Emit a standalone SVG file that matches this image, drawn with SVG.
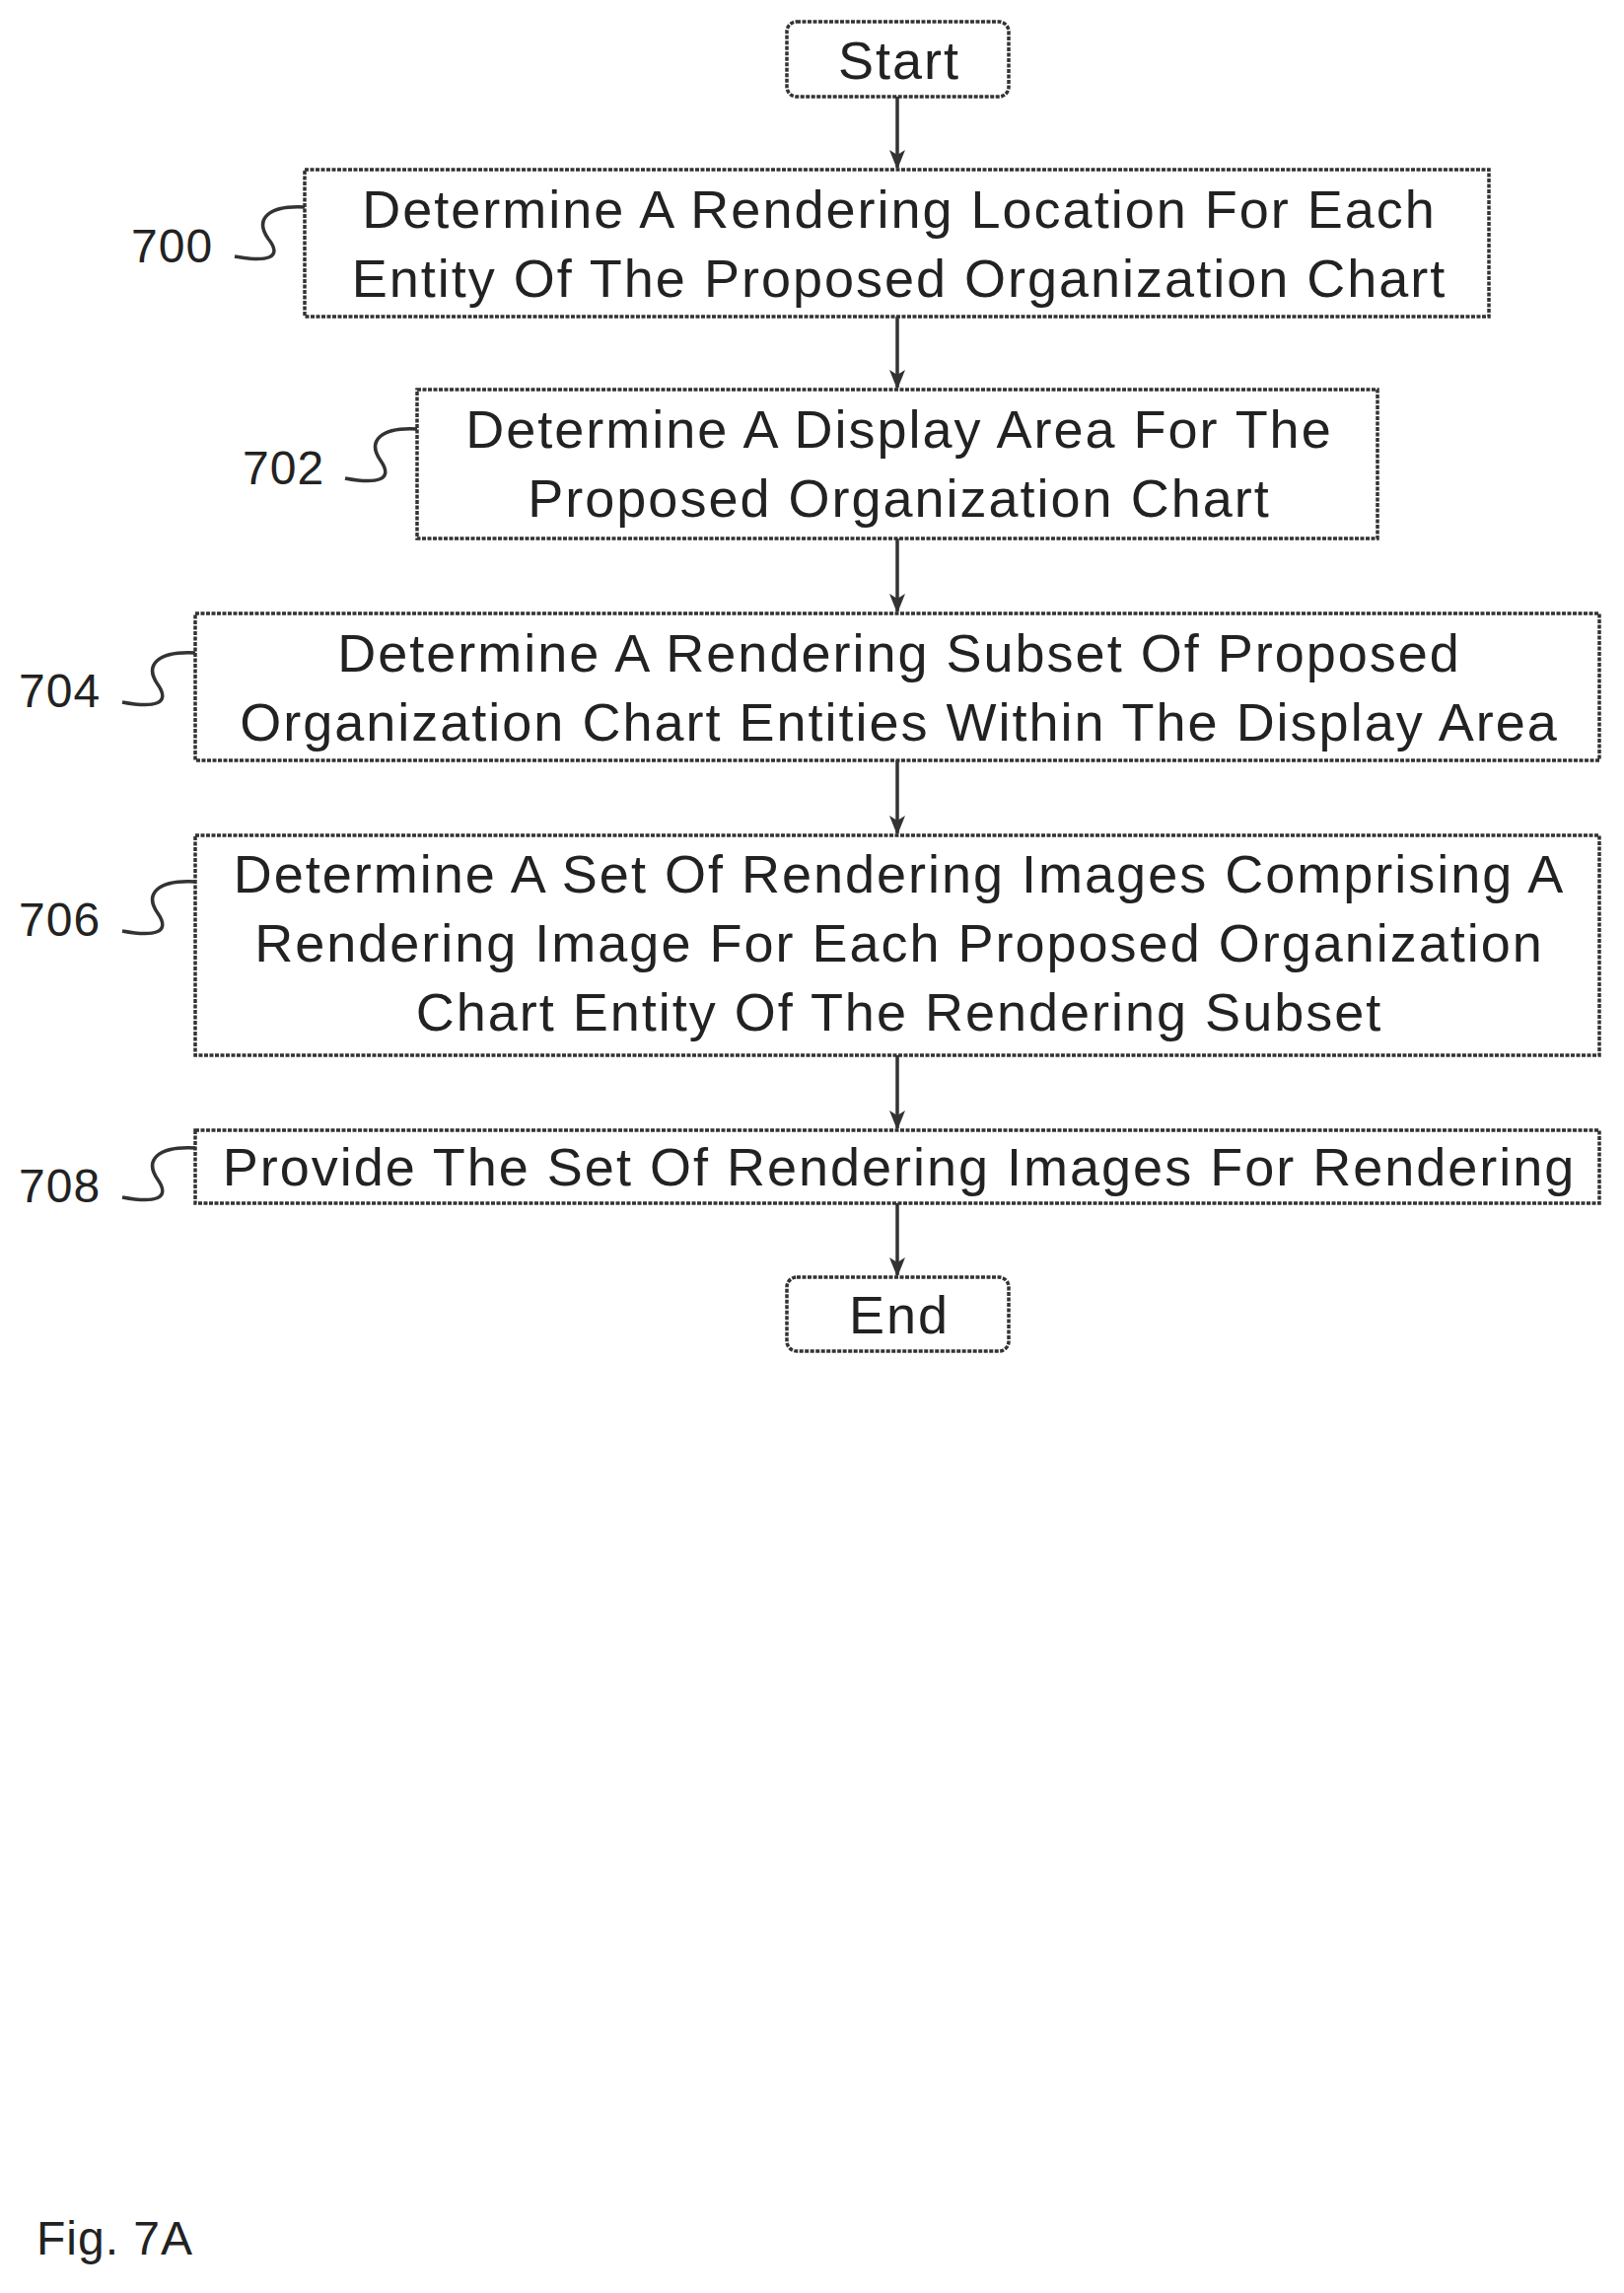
<svg xmlns="http://www.w3.org/2000/svg" width="1647" height="2325" viewBox="0 0 1647 2325">
<style>
.box{fill:#fff;stroke:#333;stroke-width:3.5;stroke-dasharray:4 1.5}
.t{font-family:"Liberation Sans",Arial,sans-serif;font-size:54px;letter-spacing:2px;fill:#222;text-anchor:middle}
.l{font-family:"Liberation Sans",Arial,sans-serif;font-size:48px;letter-spacing:1px;fill:#222}
.c{fill:none;stroke:#333;stroke-width:3.5}
</style>
<defs><marker id="a" markerWidth="20" markerHeight="20" refX="18" refY="10" orient="auto" markerUnits="userSpaceOnUse"><path d="M0,2 L20,10 L0,18 L5,10 z" fill="#333"/></marker></defs>
<rect width="1647" height="2325" fill="#fff"/>
<g id="start"><rect class="box" x="798" y="22" width="225" height="76" rx="10"/><text class="t" x="912" y="80">Start</text></g>
<g id="n700"><rect class="box" x="309" y="172" width="1201" height="149"/><text class="t" x="912" y="231">Determine A Rendering Location For Each</text><text class="t" x="912" y="301">Entity Of The Proposed Organization Chart</text>
<text class="l" x="133" y="266">700</text><path class="c" d="M238,260 C270,266 288,262 272,242 C258,222 272,208 309,210"/></g>
<g id="n702"><rect class="box" x="423" y="395" width="974" height="151"/><text class="t" x="912" y="454">Determine A Display Area For The</text><text class="t" x="912" y="524">Proposed Organization Chart</text>
<text class="l" x="246" y="491">702</text><path class="c" d="M350,485 C382,491 400,487 386,467 C372,447 386,433 423,435"/></g>
<g id="n704"><rect class="box" x="198" y="622" width="1424" height="149"/><text class="t" x="912" y="681">Determine A Rendering Subset Of Proposed</text><text class="t" x="912" y="751">Organization Chart Entities Within The Display Area</text>
<text class="l" x="19" y="717">704</text><path class="c" d="M124,712 C156,718 174,714 160,694 C146,674 160,660 198,662"/></g>
<g id="n706"><rect class="box" x="198" y="847" width="1424" height="223"/><text class="t" x="912" y="905">Determine A Set Of Rendering Images Comprising A</text><text class="t" x="912" y="975">Rendering Image For Each Proposed Organization</text><text class="t" x="912" y="1045">Chart Entity Of The Rendering Subset</text>
<text class="l" x="19" y="949">706</text><path class="c" d="M124,944 C156,950 174,946 160,926 C146,906 160,892 198,894"/></g>
<g id="n708"><rect class="box" x="198" y="1146" width="1424" height="74"/><text class="t" x="912" y="1202">Provide The Set Of Rendering Images For Rendering</text>
<text class="l" x="19" y="1219">708</text><path class="c" d="M124,1214 C156,1220 174,1216 160,1196 C146,1176 160,1162 198,1164"/></g>
<g id="end"><rect class="box" x="798" y="1295" width="225" height="75" rx="10"/><text class="t" x="912" y="1352">End</text></g>
<g id="connectors">
<line class="c" x1="910" y1="98" x2="910" y2="170" marker-end="url(#a)"/>
<line class="c" x1="910" y1="321" x2="910" y2="393" marker-end="url(#a)"/>
<line class="c" x1="910" y1="546" x2="910" y2="620" marker-end="url(#a)"/>
<line class="c" x1="910" y1="771" x2="910" y2="845" marker-end="url(#a)"/>
<line class="c" x1="910" y1="1070" x2="910" y2="1144" marker-end="url(#a)"/>
<line class="c" x1="910" y1="1220" x2="910" y2="1293" marker-end="url(#a)"/>
</g>
<text class="l" x="37" y="2286">Fig. 7A</text>
</svg>
